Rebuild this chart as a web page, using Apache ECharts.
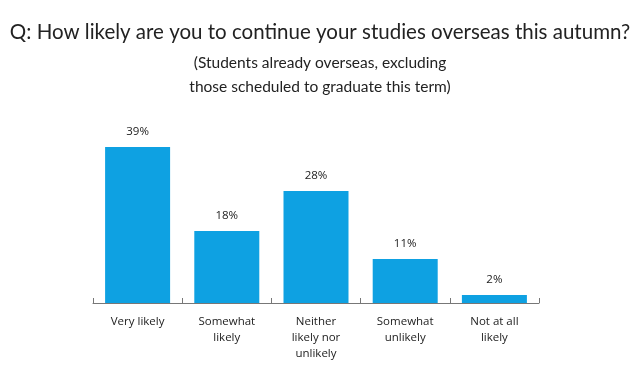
<!DOCTYPE html>
<html><head><meta charset="utf-8">
<script src="https://cdn.jsdelivr.net/npm/echarts@6/dist/echarts.min.js"></script>
<style>html,body{margin:0;padding:0;background:#fff}#c{width:640px;height:367px}</style>
</head><body><div id="c"></div>
<script>
var categories = ["Very likely", "Somewhat\nlikely", "Neither\nlikely nor\nunlikely", "Somewhat\nunlikely", "Not at all\nlikely"];
var values = [39, 18, 28, 11, 2];
var titleText = "Q: How likely are you to continue your studies overseas this autumn?";
var subtitleText = "(Students already overseas, excluding\nthose scheduled to graduate this term)";

var chart = echarts.init(document.getElementById('c'), null, {renderer: 'canvas'});
chart.setOption({
  animation: false,
  backgroundColor: '#fff',
  title: {
    text: titleText,
    subtext: subtitleText,
    left: 'center',
    top: 17,
    itemGap: 8,
    textStyle: {fontFamily: 'Lato', fontWeight: 'normal', fontSize: 20.5, color: '#222'},
    subtextStyle: {fontFamily: 'Lato', fontSize: 15.5, color: '#222', lineHeight: 24}
  },
  grid: {left: 93, right: 101, top: 143, bottom: 64, containLabel: false},
  xAxis: {
    type: 'category',
    data: categories,
    axisLine: {lineStyle: {color: '#777', width: 1}},
    axisTick: {show: true, inside: true, length: 5, lineStyle: {color: '#777'}},
    axisLabel: {fontFamily: 'Open Sans', fontSize: 11.5, color: '#222', lineHeight: 16, margin: 11, interval: 0}
  },
  yAxis: {type: 'value', min: 0, max: 40, show: false, splitLine: {show: false}},
  series: [{
    type: 'bar',
    data: values,
    barWidth: 65,
    itemStyle: {color: '#0ea1e2'},
    label: {show: true, position: 'top', distance: 9, formatter: '{c}%', fontFamily: 'Open Sans', fontSize: 11.5, color: '#222'}
  }]
});
</script></body></html>
